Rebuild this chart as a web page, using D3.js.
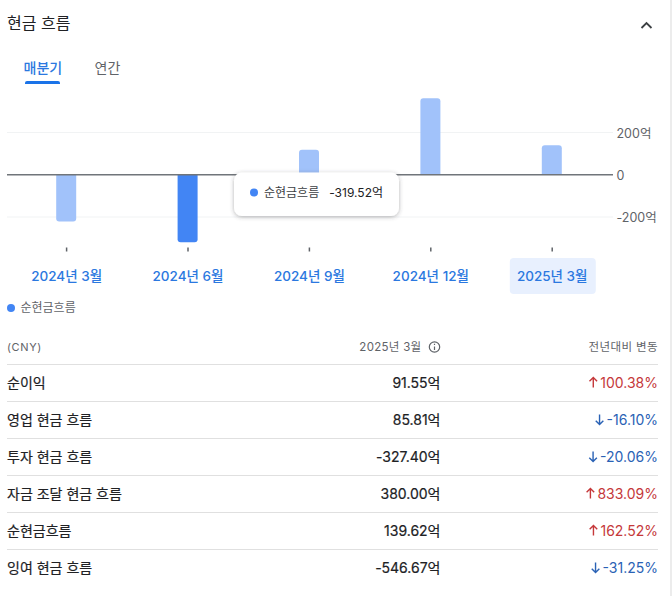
<!DOCTYPE html>
<html>
<head>
<meta charset="utf-8">
<script src="https://d3js.org/d3.v7.min.js"></script>
<style>
html, body { margin: 0; padding: 0; background: #fff; overflow: hidden; }
text { font-family: Inter, "Noto Sans CJK KR", sans-serif; }
</style>
</head>
<body>
<svg id="chart" width="672" height="596"></svg>
<script>
const quarters = ["2024년 3월", "2024년 6월", "2024년 9월", "2024년 12월", "2025년 3월"];
const netCash = [-221, -319.52, 118, 362, 139.62];
const yTicks = [-200, 0, 200];
const yTickLabels = ["-200억", "0", "200억"];

const rowNames = ["순이익", "영업 현금 흐름", "투자 현금 흐름", "자금 조달 현금 흐름", "순현금흐름", "잉여 현금 흐름"];
const rowValues = ["91.55억", "85.81억", "-327.40억", "380.00억", "139.62억", "-546.67억"];
const rowChanges = [100.38, -16.10, -20.06, 833.09, 162.52, -31.25];

const blue = "#4285f4", lightBlue = "#a1c2fa", linkBlue = "#2b78e0";
const upRed = "#c5383a", downBlue = "#2a62b5";
const fontStack = 'Inter, "Noto Sans CJK KR", sans-serif';

const svg = d3.select("#chart");

// right edge of the card
svg.append("rect").attr("x", 670).attr("y", 0).attr("width", 2).attr("height", 596).attr("fill", "#ececec");

// ---------------- header ----------------
svg.append("text").attr("x", 7).attr("y", 28.5)
    .attr("font-size", 16).attr("fill", "#202124").text("현금 흐름");
svg.append("path").attr("d", "M641.5 28 L646.5 23 L651.5 28")
    .attr("fill", "none").attr("stroke", "#3c4043").attr("stroke-width", 1.8);

svg.append("text").attr("x", 23.5).attr("y", 72.5)
    .attr("font-size", 14).attr("font-weight", 500).attr("fill", linkBlue).text("매분기");
svg.append("text").attr("x", 94.5).attr("y", 72.5)
    .attr("font-size", 14).attr("fill", "#5f6368").text("연간");
svg.append("path").attr("d", "M25 84 V83 a2 2 0 0 1 2 -2 H58 a2 2 0 0 1 2 2 V84 Z").attr("fill", "#1a73e8");

// ---------------- chart ----------------
const x = d3.scaleBand().domain(quarters).range([5.5, 612.5]).paddingInner(0).paddingOuter(0);
const y = d3.scaleLinear().domain([-200, 200]).range([217, 132.5]);
const barW = 20;

// selected quarter highlight
svg.append("rect")
    .attr("x", x(quarters[4]) + x.bandwidth() / 2 - 42).attr("y", 258)
    .attr("width", 86).attr("height", 36).attr("rx", 4).attr("fill", "#e8f0fe");

// gridlines
svg.append("g").selectAll("line")
    .data(yTicks.filter(d => d !== 0))
    .join("line")
    .attr("x1", 7).attr("x2", 613)
    .attr("y1", d => y(d)).attr("y2", d => y(d))
    .attr("stroke", "#f1f3f4").attr("stroke-width", 1);

function barPath(d) {
    const l = x.bandwidth() / 2 + x(quarters[netCash.indexOf(d)]) - barW / 2;
    const r = l + barW, y0 = y(0), y1 = y(d), c = 3;
    const s = d > 0 ? 1 : -1; // corner sweep follows bar direction
    return `M${l} ${y0} V${y1 + s * c} Q${l} ${y1} ${l + c} ${y1} H${r - c} Q${r} ${y1} ${r} ${y1 + s * c} V${y0} Z`;
}

svg.append("g").selectAll("path")
    .data(netCash)
    .join("path")
    .attr("d", barPath)
    .attr("fill", (d, i) => i === 1 ? blue : lightBlue);

// zero line
svg.append("line").attr("x1", 7).attr("x2", 613).attr("y1", y(0)).attr("y2", y(0))
    .attr("stroke", "#70757a").attr("stroke-width", 1.4);

// y axis labels
const yAxis = d3.axisRight(y).tickValues(yTicks)
    .tickFormat((d, i) => yTickLabels[i]).tickSize(0).tickPadding(0);
const yG = svg.append("g").attr("transform", "translate(616.5,0.5)").call(yAxis);
yG.select(".domain").remove();
yG.selectAll("text").attr("font-size", 12.5).attr("fill", "#5f6368")
    .style("font-family", fontStack);

// x axis ticks and labels
const xAxis = d3.axisBottom(x).tickSize(4).tickPadding(19.5);
const xG = svg.append("g").attr("transform", "translate(0.4,247.5)").call(xAxis);
xG.select(".domain").remove();
xG.selectAll("line").attr("stroke", "#5f6368").attr("stroke-width", 1.5);
xG.selectAll("text").attr("font-size", 13.5).attr("font-weight", 500)
    .attr("fill", linkBlue)
    .style("font-family", fontStack);

// tooltip
const tip = svg.append("g");
const defs = svg.append("defs");
const shadow = defs.append("filter").attr("id", "tipShadow")
    .attr("x", "-10%").attr("y", "-30%").attr("width", "120%").attr("height", "170%");
shadow.append("feDropShadow").attr("dx", 0).attr("dy", 1).attr("stdDeviation", 2)
    .attr("flood-color", "#3c4043").attr("flood-opacity", 0.4);
tip.append("rect").attr("x", 234).attr("y", 172.5).attr("width", 165).attr("height", 43.5)
    .attr("rx", 8).attr("fill", "#fff").attr("filter", "url(#tipShadow)");
tip.append("circle").attr("cx", 254).attr("cy", 192.5).attr("r", 4).attr("fill", blue);
tip.append("text").attr("x", 264).attr("y", 196.5).attr("font-size", 12).attr("fill", "#3c4043").text("순현금흐름");
tip.append("text").attr("x", 383).attr("y", 196.5).attr("text-anchor", "end")
    .attr("font-size", 12).attr("fill", "#202124")
    .text(netCash[1].toFixed(2) + "억");

// legend
svg.append("circle").attr("cx", 11).attr("cy", 308).attr("r", 4).attr("fill", blue);
svg.append("text").attr("x", 20.5).attr("y", 312).attr("font-size", 12).attr("fill", "#5f6368").text("순현금흐름");

// ---------------- table ----------------
const rowTop = 364.5, rowH = 37;

svg.append("text").attr("x", 7).attr("y", 351).attr("font-size", 11).attr("letter-spacing", 0.6)
    .attr("fill", "#5f6368").text("(CNY)");
svg.append("text").attr("x", 421.5).attr("y", 351).attr("text-anchor", "end").attr("font-size", 11.5)
    .attr("letter-spacing", 0.3).attr("fill", "#5f6368").text(quarters[4]);
const info = svg.append("g").attr("transform", "translate(434.5,347)");
info.append("circle").attr("r", 5.2).attr("fill", "none").attr("stroke", "#5f6368").attr("stroke-width", 1.2);
info.append("path").attr("d", "M0 -0.5 V3 M0 -3.2 V-2").attr("stroke", "#5f6368").attr("stroke-width", 1.2);
svg.append("text").attr("x", 658).attr("y", 351).attr("text-anchor", "end").attr("font-size", 11.5)
    .attr("letter-spacing", 0.4).attr("fill", "#5f6368").text("전년대비 변동");

svg.append("g").selectAll("line")
    .data(rowNames)
    .join("line")
    .attr("x1", 7).attr("x2", 658)
    .attr("y1", (d, i) => rowTop + i * rowH).attr("y2", (d, i) => rowTop + i * rowH)
    .attr("stroke", "#e0e0e0").attr("stroke-width", 1);

const rows = svg.append("g").selectAll("g")
    .data(rowNames)
    .join("g")
    .attr("transform", (d, i) => `translate(0,${rowTop + i * rowH})`);

rows.append("text").attr("x", 7).attr("y", 23).attr("font-size", 14)
    .attr("font-weight", 400).attr("stroke", "#202124").attr("stroke-width", 0.2)
    .attr("fill", "#202124").text(d => d);
rows.append("text").attr("x", 440.5).attr("y", 23).attr("text-anchor", "end").attr("font-size", 14)
    .attr("font-weight", 400).attr("stroke", "#202124").attr("stroke-width", 0.2)
    .attr("fill", "#202124").text((d, i) => rowValues[i]);

const changeText = rows.append("text").attr("x", 658).attr("y", 23).attr("text-anchor", "end")
    .attr("font-size", 14).attr("font-weight", 400)
    .attr("fill", (d, i) => rowChanges[i] > 0 ? upRed : downBlue)
    .text((d, i) => rowChanges[i].toFixed(2) + "%");

// arrows sit just left of the change text
rows.append("path")
    .attr("transform", function (d, i) {
        const w = changeText.nodes()[i].getComputedTextLength();
        return `translate(${658 - w - 7},18)`;
    })
    .attr("d", (d, i) => rowChanges[i] > 0
        ? "M0 5 V-5 M-3.8 -1.2 L0 -5 L3.8 -1.2"
        : "M0 -5 V5 M-3.8 1.2 L0 5 L3.8 1.2")
    .attr("fill", "none")
    .attr("stroke", (d, i) => rowChanges[i] > 0 ? upRed : downBlue)
    .attr("stroke-width", 1.4);
</script>
</body>
</html>
